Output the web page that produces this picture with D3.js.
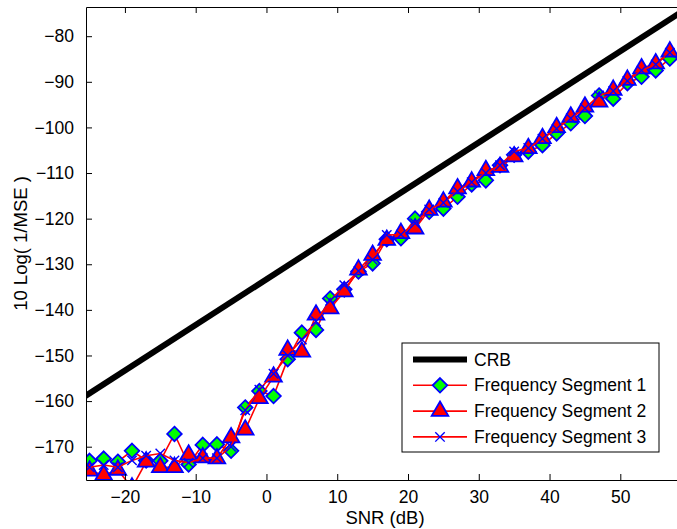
<!DOCTYPE html>
<html>
<head>
<meta charset="utf-8">
<script src="https://cdn.jsdelivr.net/npm/d3@7"></script>
<style>
  body { margin: 0; background: #fff; }
  svg { font-family: "Liberation Sans", Arial, Helvetica, sans-serif; }
</style>
</head>
<body>
<div id="chart"></div>
<script>
// SNR grid (dB) shared by the three segments
const snr = [-25, -23, -21, -19, -17, -15, -13, -11, -9, -7, -5, -3, -1, 1, 3, 5, 7, 9, 11, 13, 15,
  17, 19, 21, 23, 25, 27, 29, 31, 33, 35, 37, 39, 41, 43, 45, 47, 49, 51, 53, 55, 57];

const seg1 = [-173.1, -172.6, -173.3, -170.9, -173.0, -173.1, -167.2, -173.9, -169.6, -169.5, -170.9,
  -161.4, -157.8, -158.9, -150.8, -145.0, -144.4, -137.5, -135.5, -131.6, -129.8, -124.5, -124.3,
  -120.0, -118.5, -117.8, -115.2, -112.5, -111.6, -108.3, -106.0, -105.3, -103.9, -101.3, -99.1,
  -97.5, -93.0, -93.7, -90.3, -88.9, -87.5, -84.9];

const seg2 = [-175.3, -176.2, -175.1, -179.0, -173.3, -174.5, -174.5, -171.8, -172.4, -172.6, -168.0,
  -166.3, -159.4, -154.7, -148.8, -149.2, -141.1, -139.7, -136.0, -131.2, -128.0, -124.7, -123.2,
  -122.2, -118.1, -116.3, -113.4, -111.9, -109.4, -108.7, -106.4, -104.6, -102.4, -100.0, -97.7,
  -95.5, -94.4, -91.8, -89.6, -87.1, -86.0, -83.4];

const seg3 = [-174.5, -174.0, -174.5, -173.0, -172.0, -171.5, -173.0, -173.5, -172.5, -172.5, -170.0,
  -162.0, -157.5, -154.0, -150.0, -146.5, -142.5, -138.0, -134.6, -131.5, -129.0, -123.6, -123.5,
  -121.0, -118.0, -116.5, -114.0, -112.0, -110.0, -108.3, -105.3, -104.5, -102.5, -100.3, -98.0,
  -95.8, -93.0, -92.0, -89.8, -87.5, -86.2, -83.6];

// Cramer-Rao bound, a straight line in dB
const crbSnr = [-26, 60];
const crbVal = [-159.3, -73.3];

const xTicks = [-20, -10, 0, 10, 20, 30, 40, 50];
const yTicks = [-170, -160, -150, -140, -130, -120, -110, -100, -90, -80];

const legendLabels = ["CRB", "Frequency Segment 1", "Frequency Segment 2", "Frequency Segment 3"];

const width = 677, height = 529;
const margin = { top: 7, right: -7, bottom: 49, left: 86 };

const svg = d3.select("#chart").append("svg")
  .attr("width", width)
  .attr("height", height);

const x = d3.scaleLinear()
  .domain([-25.5, 59])
  .range([margin.left, width - margin.right]);

const y = d3.scaleLinear()
  .domain([-177.3, -73.6])
  .range([height - margin.bottom, margin.top]);

svg.append("defs").append("clipPath")
  .attr("id", "plotClip")
  .append("rect")
  .attr("x", x.range()[0])
  .attr("y", y.range()[1])
  .attr("width", x.range()[1] - x.range()[0])
  .attr("height", y.range()[0] - y.range()[1]);

const plot = svg.append("g").attr("clip-path", "url(#plotClip)");

const line = d3.line()
  .x(d => x(d[0]))
  .y(d => y(d[1]));

// CRB
plot.append("path")
  .datum(crbSnr.map((s, i) => [s, crbVal[i]]))
  .attr("d", line)
  .attr("fill", "none")
  .attr("stroke", "#000")
  .attr("stroke-width", 6);

const diamond = d3.symbol().type(d3.symbolDiamond2).size(135);
const triangle = d3.symbol().type(d3.symbolTriangle).size(120);
const cross = d3.symbol().type(d3.symbolTimes).size(60);

const series = [
  { values: seg1, marker: diamond, fill: "#00ff00" },
  { values: seg2, marker: triangle, fill: "#ff0000" },
  { values: seg3, marker: cross, fill: "none" }
];

series.forEach(s => {
  const pts = snr.map((v, i) => [v, s.values[i]]);
  plot.append("path")
    .datum(pts)
    .attr("d", line)
    .attr("fill", "none")
    .attr("stroke", "#ff0000")
    .attr("stroke-width", 1.6);

  plot.append("g").selectAll("path")
    .data(pts)
    .join("path")
    .attr("transform", d => "translate(" + x(d[0]) + "," + y(d[1]) + ")")
    .attr("d", s.marker)
    .attr("fill", s.fill)
    .attr("stroke", "#0000ff")
    .attr("stroke-width", s.fill === "none" ? 1.4 : 1.8);
});

// axes, MATLAB style box with inward ticks
const tickLen = 6;
const axisG = svg.append("g");

axisG.append("g")
  .attr("transform", "translate(0," + y.range()[0] + ")")
  .call(d3.axisBottom(x).tickValues(xTicks).tickSizeInner(-tickLen).tickSizeOuter(0).tickPadding(11));

axisG.append("g")
  .attr("transform", "translate(0," + y.range()[1] + ")")
  .call(d3.axisTop(x).tickValues(xTicks).tickSizeInner(-tickLen).tickSizeOuter(0).tickFormat(""));

axisG.append("g")
  .attr("transform", "translate(" + x.range()[0] + ",0)")
  .call(d3.axisLeft(y).tickValues(yTicks).tickSizeInner(-tickLen).tickSizeOuter(0).tickPadding(12));

axisG.selectAll(".tick text")
  .attr("font-size", 17.5)
  .attr("fill", "#000")
  .attr("font-family", "Liberation Sans, Arial, sans-serif");
axisG.selectAll(".tick line").attr("stroke", "#000");
axisG.selectAll(".domain").attr("stroke", "#000");

svg.append("text")
  .attr("x", (x.range()[0] + x.range()[1]) / 2)
  .attr("y", 524)
  .attr("text-anchor", "middle")
  .attr("font-size", 18.5)
  .text("SNR (dB)");

svg.append("text")
  .attr("transform", "translate(27," + (y.range()[0] + y.range()[1]) / 2 + ") rotate(-90)")
  .attr("text-anchor", "middle")
  .attr("font-size", 18.5)
  .text("10 Log( 1/MSE )");

// legend
const legend = svg.append("g");
legend.append("rect")
  .attr("x", 402)
  .attr("y", 343)
  .attr("width", 257)
  .attr("height", 109)
  .attr("fill", "#fff")
  .attr("stroke", "#000")
  .attr("stroke-width", 1);

const legendItems = legend.selectAll("g.item")
  .data(legendLabels)
  .join("g")
  .attr("class", "item")
  .attr("transform", (d, i) => "translate(0," + (359.5 + i * 25.8) + ")");

legendItems.append("line")
  .attr("x1", 413)
  .attr("x2", 467)
  .attr("stroke", (d, i) => i === 0 ? "#000" : "#ff0000")
  .attr("stroke-width", (d, i) => i === 0 ? 6 : 1.6);

legendItems.filter((d, i) => i > 0).append("path")
  .attr("transform", "translate(440,0)")
  .attr("d", (d, i) => series[i].marker())
  .attr("fill", (d, i) => series[i].fill)
  .attr("stroke", "#0000ff")
  .attr("stroke-width", (d, i) => series[i].fill === "none" ? 1.4 : 1.8);

legendItems.append("text")
  .attr("x", 474)
  .attr("dy", "0.35em")
  .attr("font-size", 17.5)
  .text(d => d);
</script>
</body>
</html>
